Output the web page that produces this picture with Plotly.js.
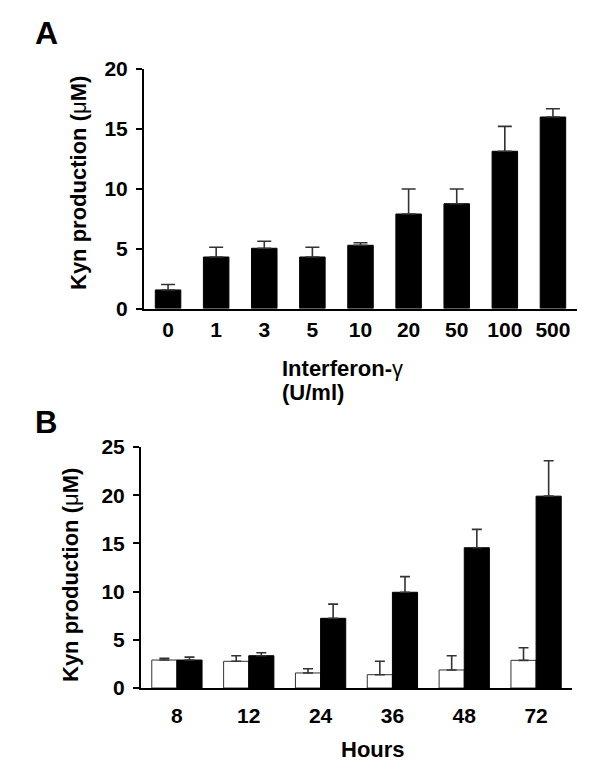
<!DOCTYPE html>
<html>
<head>
<meta charset="utf-8">
<script src="https://cdn.plot.ly/plotly-3.0.1.min.js"></script>
<style>html,body{margin:0;padding:0;background:#fff;}#chart{width:600px;height:773px;}</style>
</head>
<body>
<div id="chart"></div>
<script>
// Panel A data
var doseLabels = ['0', '1', '3', '5', '10', '20', '50', '100', '500'];
var doseKyn = [1.55, 4.3, 5.03, 4.3, 5.28, 7.89, 8.75, 13.13, 15.99];
var doseErr = [0.45, 0.81, 0.58, 0.81, 0.21, 2.09, 1.23, 2.08, 0.69];

// Panel B data
var hourLabels = ['8', '12', '24', '36', '48', '72'];
var controlKyn = [2.9, 2.77, 1.56, 1.38, 1.87, 2.87];
var controlErr = [0.18, 0.58, 0.44, 1.39, 1.48, 1.31];
var ifnKyn = [2.9, 3.35, 7.23, 9.93, 14.55, 19.9];
var ifnErr = [0.3, 0.31, 1.47, 1.62, 1.91, 3.68];

var zeros = function (a) { return a.map(function () { return 0; }); };
var FONT = 'Arial, "Liberation Sans", Helvetica, sans-serif';

var traces = [
  {
    type: 'bar', x: doseLabels, y: doseKyn, xaxis: 'x', yaxis: 'y',
    width: 0.53,
    marker: {color: '#000000', line: {color: '#000000', width: 1}},
    error_y: {type: 'data', symmetric: false, array: doseErr, arrayminus: zeros(doseErr),
      color: '#333333', thickness: 1.6, width: 7}
  },
  {
    type: 'bar', x: hourLabels, y: controlKyn, xaxis: 'x2', yaxis: 'y2',
    marker: {color: '#ffffff', line: {color: '#333333', width: 1}},
    error_y: {type: 'data', symmetric: false, array: controlErr, arrayminus: zeros(controlErr),
      color: '#333333', thickness: 1.6, width: 5}
  },
  {
    type: 'bar', x: hourLabels, y: ifnKyn, xaxis: 'x2', yaxis: 'y2',
    marker: {color: '#000000', line: {color: '#000000', width: 1}},
    error_y: {type: 'data', symmetric: false, array: ifnErr, arrayminus: zeros(ifnErr),
      color: '#333333', thickness: 1.6, width: 5}
  }
];

var tickFont = {family: FONT, size: 21, color: '#000', weight: 'bold'};
var titleFont = {family: FONT, size: 22, color: '#000', weight: 'bold'};

function xAx(domain, anchor, standoff) {
  return {domain: domain, anchor: anchor, type: 'category', showgrid: false, zeroline: false,
    showline: true, linewidth: 2, linecolor: '#000', ticks: '', tickfont: tickFont,
    ticklabelstandoff: standoff, fixedrange: true};
}
function yAx(domain, anchor, range) {
  return {domain: domain, anchor: anchor, range: range, dtick: 5, showgrid: false, zeroline: false,
    showline: true, linewidth: 2, linecolor: '#000', ticks: 'outside', ticklen: 6, tickwidth: 2,
    tickcolor: '#000', tickfont: tickFont, ticklabelstandoff: 4, fixedrange: true};
}

var layout = {
  width: 600, height: 773, autosize: false,
  margin: {l: 0, r: 0, t: 0, b: 0},
  paper_bgcolor: '#ffffff', plot_bgcolor: '#ffffff',
  showlegend: false, barmode: 'group', bargap: 0.30, bargroupgap: 0,
  xaxis: xAx([144 / 600, 577 / 600], 'y', 1),
  yaxis: yAx([1 - 308.5 / 773, 1 - 69 / 773], 'x', [0, 20]),
  xaxis2: xAx([141 / 600, 572 / 600], 'y2', 8),
  yaxis2: yAx([1 - 688 / 773, 1 - 447 / 773], 'x2', [0, 25]),
  annotations: [
    {text: 'A', xref: 'paper', yref: 'paper', x: 46 / 600, y: 1 - 33 / 773, xanchor: 'center', yanchor: 'middle',
      showarrow: false, font: {family: FONT, size: 32, color: '#000', weight: 'bold'}},
    {text: 'B', xref: 'paper', yref: 'paper', x: 46 / 600, y: 1 - 423 / 773, xanchor: 'center', yanchor: 'middle',
      showarrow: false, font: {family: FONT, size: 31, color: '#000', weight: 'bold'}},
    {text: 'Kyn production (<span style="font-weight:normal">μ</span>M)', xref: 'paper', yref: 'paper',
      x: 78 / 600, y: 1 - 183 / 773, xanchor: 'center', yanchor: 'middle', textangle: -90,
      showarrow: false, font: titleFont},
    {text: 'Kyn production (<span style="font-weight:normal">μ</span>M)', xref: 'paper', yref: 'paper',
      x: 70 / 600, y: 1 - 575 / 773, xanchor: 'center', yanchor: 'middle', textangle: -90,
      showarrow: false, font: titleFont},
    {text: 'Interferon-<span style="font-weight:normal">γ</span>', xref: 'paper', yref: 'paper',
      x: 280 / 600, y: 1 - 368 / 773, xanchor: 'left', yanchor: 'middle', align: 'left',
      showarrow: false, font: titleFont},
    {text: '(U/ml)', xref: 'paper', yref: 'paper',
      x: 280 / 600, y: 1 - 392 / 773, xanchor: 'left', yanchor: 'middle', align: 'left',
      showarrow: false, font: titleFont},
    {text: 'Hours', xref: 'paper', yref: 'paper',
      x: 373 / 600, y: 1 - 749 / 773, xanchor: 'center', yanchor: 'middle',
      showarrow: false, font: titleFont}
  ]
};

Plotly.newPlot('chart', traces, layout, {displayModeBar: false, staticPlot: true});
</script>
</body>
</html>
